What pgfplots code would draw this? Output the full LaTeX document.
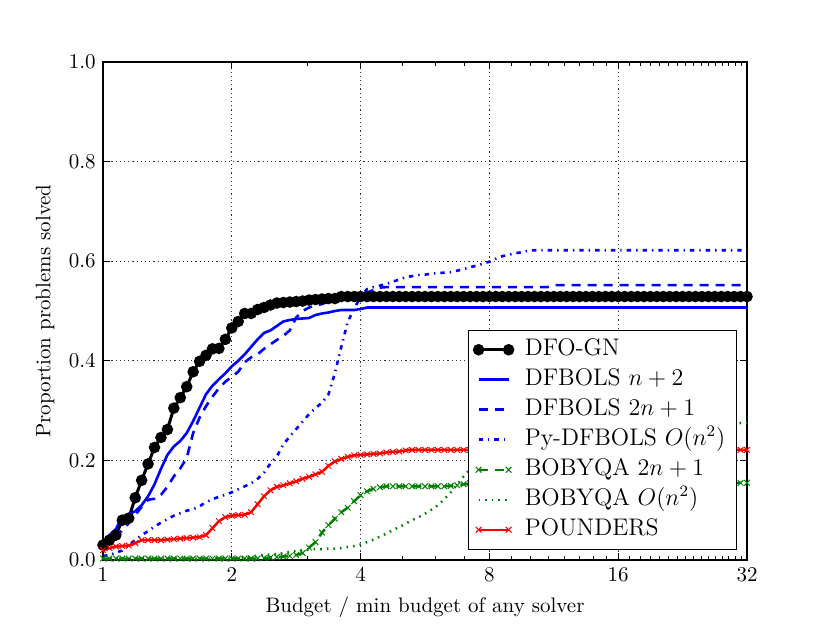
\documentclass[border=0pt]{standalone}
\usepackage{pgfplots}
\pgfplotsset{compat=1.18}
\usepackage{pgfplotstable}
% t = log2(budget ratio)
\pgfplotstableread{
t gn np2 tnp1 py bq bqq pd
0.00 0.030 0.035 0.025 0.008 0.003 0.003 0.020
0.05 0.040 0.050 0.036 0.010 0.003 0.003 0.024
0.10 0.050 0.062 0.046 0.015 0.003 0.003 0.027
0.15 0.080 0.087 0.060 0.019 0.003 0.003 0.028
0.20 0.084 0.092 0.074 0.030 0.003 0.003 0.029
0.25 0.125 0.098 0.090 0.040 0.003 0.003 0.034
0.30 0.160 0.110 0.107 0.050 0.003 0.003 0.040
0.35 0.193 0.128 0.121 0.058 0.003 0.003 0.040
0.40 0.226 0.152 0.123 0.067 0.003 0.003 0.040
0.45 0.246 0.183 0.131 0.075 0.003 0.003 0.040
0.50 0.262 0.211 0.147 0.082 0.003 0.003 0.041
0.55 0.305 0.228 0.168 0.089 0.003 0.003 0.042
0.60 0.326 0.239 0.184 0.094 0.003 0.003 0.043
0.65 0.348 0.255 0.205 0.099 0.003 0.003 0.044
0.70 0.378 0.279 0.255 0.102 0.003 0.003 0.045
0.75 0.399 0.306 0.286 0.108 0.003 0.003 0.046
0.80 0.411 0.333 0.309 0.116 0.003 0.003 0.050
0.85 0.424 0.350 0.328 0.122 0.003 0.003 0.064
0.90 0.425 0.363 0.345 0.127 0.003 0.003 0.078
0.95 0.443 0.375 0.358 0.131 0.003 0.003 0.086
1.00 0.466 0.389 0.368 0.136 0.003 0.003 0.089
1.05 0.479 0.400 0.378 0.142 0.003 0.004 0.090
1.10 0.495 0.413 0.397 0.148 0.003 0.005 0.091
1.15 0.495 0.428 0.407 0.154 0.003 0.007 0.096
1.20 0.503 0.443 0.413 0.163 0.003 0.009 0.112
1.25 0.507 0.456 0.424 0.175 0.004 0.010 0.128
1.30 0.512 0.461 0.433 0.194 0.005 0.011 0.140
1.35 0.516 0.470 0.442 0.208 0.006 0.012 0.147
1.40 0.517 0.479 0.450 0.232 0.007 0.014 0.150
1.45 0.518 0.482 0.461 0.248 0.008 0.016 0.154
1.50 0.519 0.484 0.487 0.263 0.010 0.018 0.158
1.55 0.520 0.485 0.500 0.278 0.014 0.020 0.163
1.60 0.522 0.486 0.507 0.293 0.025 0.021 0.167
1.65 0.523 0.492 0.511 0.305 0.036 0.022 0.172
1.70 0.524 0.495 0.514 0.316 0.055 0.022 0.177
1.75 0.525 0.497 0.519 0.332 0.070 0.023 0.189
1.80 0.525 0.500 0.524 0.375 0.083 0.023 0.198
1.85 0.529 0.502 0.528 0.428 0.096 0.024 0.203
1.90 0.529 0.502 0.533 0.478 0.105 0.026 0.207
1.95 0.529 0.502 0.536 0.505 0.118 0.028 0.210
2.00 0.529 0.504 0.537 0.528 0.130 0.031 0.211
2.05 0.529 0.507 0.537 0.544 0.138 0.036 0.212
2.10 0.529 0.507 0.542 0.548 0.143 0.041 0.213
2.15 0.529 0.507 0.547 0.551 0.146 0.047 0.214
2.20 0.529 0.507 0.548 0.554 0.148 0.053 0.216
2.25 0.529 0.507 0.548 0.559 0.148 0.060 0.217
2.30 0.529 0.507 0.548 0.563 0.148 0.066 0.218
2.35 0.529 0.507 0.548 0.568 0.148 0.073 0.220
2.40 0.529 0.507 0.548 0.570 0.148 0.080 0.221
2.45 0.529 0.507 0.548 0.572 0.148 0.086 0.221
2.50 0.529 0.507 0.548 0.573 0.148 0.093 0.221
2.55 0.529 0.507 0.548 0.575 0.148 0.101 0.221
2.60 0.529 0.507 0.548 0.576 0.148 0.110 0.221
2.65 0.529 0.507 0.548 0.577 0.148 0.122 0.221
2.70 0.529 0.507 0.548 0.578 0.149 0.136 0.221
2.75 0.529 0.507 0.548 0.581 0.150 0.152 0.221
2.80 0.529 0.507 0.548 0.584 0.152 0.168 0.221
2.85 0.529 0.507 0.548 0.588 0.154 0.182 0.221
2.90 0.529 0.507 0.548 0.591 0.155 0.195 0.221
2.95 0.529 0.507 0.548 0.595 0.155 0.204 0.221
3.00 0.529 0.507 0.548 0.599 0.155 0.212 0.221
3.05 0.529 0.507 0.548 0.605 0.155 0.220 0.221
3.10 0.529 0.507 0.548 0.610 0.155 0.228 0.221
3.15 0.529 0.507 0.548 0.613 0.155 0.234 0.221
3.20 0.529 0.507 0.548 0.616 0.155 0.240 0.221
3.25 0.529 0.507 0.548 0.618 0.155 0.244 0.221
3.30 0.529 0.507 0.548 0.621 0.155 0.248 0.221
3.35 0.529 0.507 0.548 0.622 0.155 0.250 0.221
3.40 0.529 0.507 0.548 0.622 0.155 0.252 0.221
3.45 0.529 0.507 0.548 0.622 0.155 0.254 0.221
3.50 0.529 0.507 0.552 0.622 0.155 0.255 0.221
3.55 0.529 0.507 0.552 0.622 0.155 0.256 0.221
3.60 0.529 0.507 0.552 0.622 0.155 0.257 0.221
3.65 0.529 0.507 0.552 0.622 0.155 0.258 0.221
3.70 0.529 0.507 0.552 0.622 0.155 0.259 0.221
3.75 0.529 0.507 0.552 0.622 0.155 0.260 0.221
3.80 0.529 0.507 0.552 0.622 0.155 0.261 0.221
3.85 0.529 0.507 0.552 0.622 0.155 0.261 0.221
3.90 0.529 0.507 0.552 0.622 0.155 0.262 0.221
3.95 0.529 0.507 0.552 0.622 0.155 0.262 0.221
4.00 0.529 0.507 0.552 0.622 0.155 0.263 0.221
4.05 0.529 0.507 0.552 0.622 0.155 0.264 0.221
4.10 0.529 0.507 0.552 0.622 0.155 0.264 0.221
4.15 0.529 0.507 0.552 0.622 0.155 0.265 0.221
4.20 0.529 0.507 0.552 0.622 0.155 0.266 0.221
4.25 0.529 0.507 0.552 0.622 0.155 0.266 0.221
4.30 0.529 0.507 0.552 0.622 0.155 0.267 0.221
4.35 0.529 0.507 0.552 0.622 0.155 0.268 0.221
4.40 0.529 0.507 0.552 0.622 0.155 0.268 0.221
4.45 0.529 0.507 0.552 0.622 0.155 0.269 0.221
4.50 0.529 0.507 0.552 0.622 0.155 0.270 0.221
4.55 0.529 0.507 0.552 0.622 0.155 0.270 0.221
4.60 0.529 0.507 0.552 0.622 0.155 0.271 0.221
4.65 0.529 0.507 0.552 0.622 0.155 0.272 0.221
4.70 0.529 0.507 0.552 0.622 0.155 0.272 0.221
4.75 0.529 0.507 0.552 0.622 0.155 0.273 0.221
4.80 0.529 0.507 0.552 0.622 0.155 0.273 0.221
4.85 0.529 0.507 0.552 0.622 0.155 0.274 0.221
4.90 0.529 0.507 0.552 0.622 0.155 0.274 0.221
4.95 0.529 0.507 0.552 0.622 0.155 0.275 0.221
5.00 0.529 0.507 0.552 0.622 0.155 0.275 0.221
}\perfdata

\definecolor{mplgreen}{rgb}{0,0.5,0}

\begin{document}
\fontsize{10.5}{12.6}\selectfont
\begin{tikzpicture}
\begin{axis}[
  scale only axis, width=322pt, height=249pt,
  xmin=0, xmax=5, ymin=0, ymax=1,
  xtick={0,1,2,3,4,5}, xticklabels={1,2,4,8,16,32},
  minor xtick={1.585,2.3219,2.585,2.807,3.1699,3.3219,3.4594,3.585,3.7004,3.8074,3.9069,4.0875,4.1699,4.2479,4.3219,4.3923,4.4594,4.5236,4.585,4.6439,4.7004,4.7549,4.8074,4.858,4.9069,4.9542},
  ytick={0,0.2,0.4,0.6,0.8,1.0}, yticklabels={0.0,0.2,0.4,0.6,0.8,1.0},
  tick align=inside, major tick length=3.5pt, minor tick length=2pt,
  tick style={black, line width=0.5pt},
  grid=major, major grid style={black!80, line width=0.45pt, dash pattern=on 0.6pt off 1.5pt},
  axis line style={line width=0.75pt},
  xlabel={Budget / min budget of any solver},
  ylabel={Proportion problems solved},
  legend style={at={(1,0)}, anchor=south east, xshift=-5pt, yshift=5pt,
    draw=black, line width=0.75pt, row sep=1.5pt, inner xsep=3pt, inner ysep=3pt,
    font=\fontsize{2}{2.4}\selectfont,
    nodes={font=\fontsize{12}{14.4}\selectfont, inner xsep=2.5pt, inner ysep=1pt, text height=8.6pt, text depth=2.9pt}},
  legend cell align=left,
  legend image code/.code={\draw[#1] plot coordinates {(0pt,0pt) (15pt,0pt)};},
]
\addplot[black, line width=1.5pt, mark=*, mark size=2.1pt, mark options={solid}]
  table[x=t, y=gn] {\perfdata};
\addlegendentry{\hspace{3.5pt}DFO-GN}
\addplot[blue, line width=1.3pt]
  table[x=t, y=np2] {\perfdata};
\addlegendentry{\hspace{3.5pt}DFBOLS $n+2$}
\addplot[blue, line width=1.3pt, dash pattern=on 4.5pt off 3.5pt]
  table[x=t, y=tnp1] {\perfdata};
\addlegendentry{\hspace{3.5pt}DFBOLS $2n+1$}
\addplot[blue, line width=1.3pt, dash pattern=on 2.2pt off 2.5pt on 0.7pt off 2.5pt]
  table[x=t, y=py] {\perfdata};
\addlegendentry{\hspace{3.5pt}Py-DFBOLS $O(n^2)$}
\addplot[mplgreen, line width=1.25pt, dash pattern=on 4.5pt off 3.5pt, mark=x, mark size=2pt, mark options={solid, line width=0.5pt}]
  table[x=t, y=bq] {\perfdata};
\addlegendentry{\hspace{3.5pt}BOBYQA $2n+1$}
\addplot[mplgreen, line width=1.25pt, dash pattern=on 0.8pt off 2.5pt]
  table[x=t, y=bqq] {\perfdata};
\addlegendentry{\hspace{3.5pt}BOBYQA $O(n^2)$}
\addplot[red, line width=1.25pt, mark=x, mark size=2pt, mark options={solid, line width=0.5pt}]
  table[x=t, y=pd] {\perfdata};
\addlegendentry{\hspace{3.5pt}POUNDERS}
\end{axis}
\pgfresetboundingbox
\path[use as bounding box] (current axis.south west) ++(-51.5pt,-31.5pt) rectangle ++(415pt,311.5pt);
\end{tikzpicture}
\end{document}
